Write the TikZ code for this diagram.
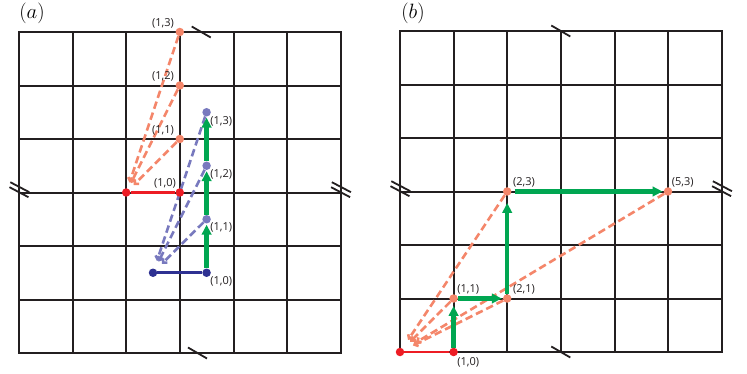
\documentclass[tikz,border=0pt]{standalone}
\usepackage{fontspec}
\newfontfamily\lblfont{Open Sans}
\usepackage{xcolor}
\definecolor{cGrid}{HTML}{231F20}
\definecolor{cRed}{HTML}{ED1C24}
\definecolor{cSalmon}{HTML}{F4866A}
\definecolor{cNavy}{HTML}{2E3192}
\definecolor{cLilac}{HTML}{7879BE}
\definecolor{cGreen}{HTML}{00A651}
\usepackage{tikz}
\usetikzlibrary{positioning,arrows.meta,backgrounds}
\tikzset{
  gridline/.style={draw=cGrid,line width=1.8pt,line cap=rect},
  slash/.style={draw=cGrid,line width=1.8pt},
  slashmark/.pic={\draw[slash] (-9.5pt,5.5pt) -- (9.5pt,-5.5pt);},
  dblslash/.pic={\draw[slash] (-8.7pt,10.3pt) -- (10.3pt,0.3pt);
                 \draw[slash] (-9.5pt,5.3pt) -- (9.5pt,-4.7pt);},
  panel-label/.style={font=\fontsize{20}{22}\selectfont,inner sep=0pt},
  lbl/.style={font=\lblfont\fontsize{11}{13}\selectfont,text=cGrid,inner sep=0.5pt},
  dot/.style={circle,inner sep=0pt,minimum size=8.5pt},
  dot-red/.style={dot,fill=cRed},
  dot-salmon/.style={dot,fill=cSalmon},
  dot-navy/.style={dot,fill=cNavy},
  dot-lilac/.style={dot,fill=cLilac},
  seg-red/.style={draw=cRed,line width=2.8pt},
  seg-navy/.style={draw=cNavy,line width=2.8pt},
  arrow-step/.style={-{Triangle[length=10pt,width=9.5pt]},draw=cGreen,
    line width=4.4pt,shorten >=1pt},
  arrow-back/.style={-{Straight Barb[length=3pt,width=6pt]},
    dash pattern=on 7.5pt off 4pt,line width=2.6pt,shorten >=6pt},
  arrow-back-salmon/.style={arrow-back,draw=cSalmon},
  arrow-back-lilac/.style={arrow-back,draw=cLilac,shorten >=8pt},
}
% grid lines snapped to whole points
\newcommand\latticegrid{%
  \foreach \d in {0,54,107,161,215,268,322}
    {\draw[gridline] (\d pt,0pt) -- (\d pt,-321pt);}
  \foreach \d in {0,54,107,161,214,268,321}
    {\draw[gridline] (0pt,-\d pt) -- (322pt,-\d pt);}
}

\begin{document}
\begin{tikzpicture}
  \useasboundingbox (0,0) rectangle (747pt,-374pt);
  \node[panel-label] (tagA) at (32pt,-13pt)  {$(a)$};
  \node[panel-label] (tagB) at (413pt,-13pt) {$(b)$};

  % (a)
  \begin{scope}[shift={(19pt,-32pt)},x=53.6pt,y=-53.5pt]
    \begin{scope}[on background layer]
      \latticegrid
    \end{scope}
    \pic at (3.4,0)  {slashmark};
    \pic at (3.33,6) {slashmark};
    \pic at (0,3)    {dblslash};
    \pic at (6,3)    {dblslash};

    \node[dot-red]    (a-r0) at (2,3) {};
    \node[dot-red]    (a-r1) at (3,3) {};
    \node[dot-salmon] (a-o1) at (3,2) {};
    \node[dot-salmon] (a-o2) at (3,1) {};
    \node[dot-salmon] (a-o3) at (3,0) {};
    \node[dot-navy]   (a-b0) at (2.5,4.5) {};
    \node[dot-navy]   (a-b1) at (3.5,4.5) {};
    \node[dot-lilac]  (a-p1) at (3.5,3.5) {};
    \node[dot-lilac]  (a-p2) at (3.5,2.5) {};
    \node[dot-lilac]  (a-p3) at (3.5,1.5) {};

    \node[lbl,above left=0pt and 0pt of a-r1]  (a-lr1) {(1,0)};
    \node[lbl,above left=0pt and 2pt of a-o1]  (a-lo1) {(1,1)};
    \node[lbl,above left=0pt and 2pt of a-o2]  (a-lo2) {(1,2)};
    \node[lbl,above left=0pt and 2pt of a-o3]  (a-lo3) {(1,3)};
    \node[lbl,below right=0pt and 0pt of a-b1] (a-lb1) {(1,0)};
    \node[lbl,below right=0pt and 0pt of a-p1] (a-lp1) {(1,1)};
    \node[lbl,below right=0pt and 0pt of a-p2] (a-lp2) {(1,2)};
    \node[lbl,below right=0pt and 0pt of a-p3] (a-lp3) {(1,3)};

    \begin{scope}[on background layer]
      \draw[arrow-back-salmon] (a-o1) -- (a-r0);
      \draw[arrow-back-salmon] (a-o2) -- (a-r0);
      \draw[arrow-back-salmon] (a-o3) -- (a-r0);
      \draw[arrow-back-lilac]  (a-p1) -- (a-b0);
      \draw[arrow-back-lilac]  (a-p2) -- (a-b0);
      \draw[arrow-back-lilac]  (a-p3) -- (a-b0);
      \draw[seg-red]  (a-r0) -- (a-r1);
      \draw[seg-navy] (a-b0) -- (a-b1);
      \draw[arrow-step] (a-b1) -- (a-p1);
      \draw[arrow-step] (a-p1) -- (a-p2);
      \draw[arrow-step] (a-p2) -- (a-p3);
    \end{scope}
  \end{scope}

  % (b)
  \begin{scope}[shift={(400pt,-31pt)},x=53.6pt,y=-53.5pt]
    \begin{scope}[on background layer]
      \latticegrid
    \end{scope}
    \pic at (3,0) {slashmark};
    \pic at (3,6) {slashmark};
    \pic at (0,3) {dblslash};
    \pic at (6,3) {dblslash};

    \node[dot-red]    (b-q0)  at (0,6) {};
    \node[dot-red]    (b-q1)  at (1,6) {};
    \node[dot-salmon] (b-s11) at (1,5) {};
    \node[dot-salmon] (b-s21) at (2,5) {};
    \node[dot-salmon] (b-s23) at (2,3) {};
    \node[dot-salmon] (b-s53) at (5,3) {};

    \node[lbl,below right=2pt and 0pt of b-q1]  (b-lq1)  {(1,0)};
    \node[lbl,above right=0pt of b-s11]         (b-ls11) {(1,1)};
    \node[lbl,above right=0pt and 2pt of b-s21] (b-ls21) {(2,1)};
    \node[lbl,above right=0pt and 2pt of b-s23] (b-ls23) {(2,3)};
    \node[lbl,above right=0pt of b-s53]         (b-ls53) {(5,3)};

    \begin{scope}[on background layer]
      \draw[arrow-back-salmon,shorten >=10pt] (b-s11) -- (b-q0);
      \draw[arrow-back-salmon,shorten >=10pt] (b-s21) -- (b-q0);
      \draw[arrow-back-salmon,shorten >=10pt] (b-s23) -- (b-q0);
      \draw[arrow-back-salmon,shorten >=14pt] (b-s53) -- (b-q0);
      \draw[seg-red] (b-q0) -- (b-q1);
      \draw[arrow-step,shorten >=3pt] (b-q1)  -- (b-s11);
      \draw[arrow-step]               (b-s11) -- (b-s21);
      \draw[arrow-step,shorten >=7pt] (b-s21) -- (b-s23);
      \draw[arrow-step,shorten <=3pt] (b-s23) -- (b-s53);
    \end{scope}
  \end{scope}
\end{tikzpicture}
\end{document}
